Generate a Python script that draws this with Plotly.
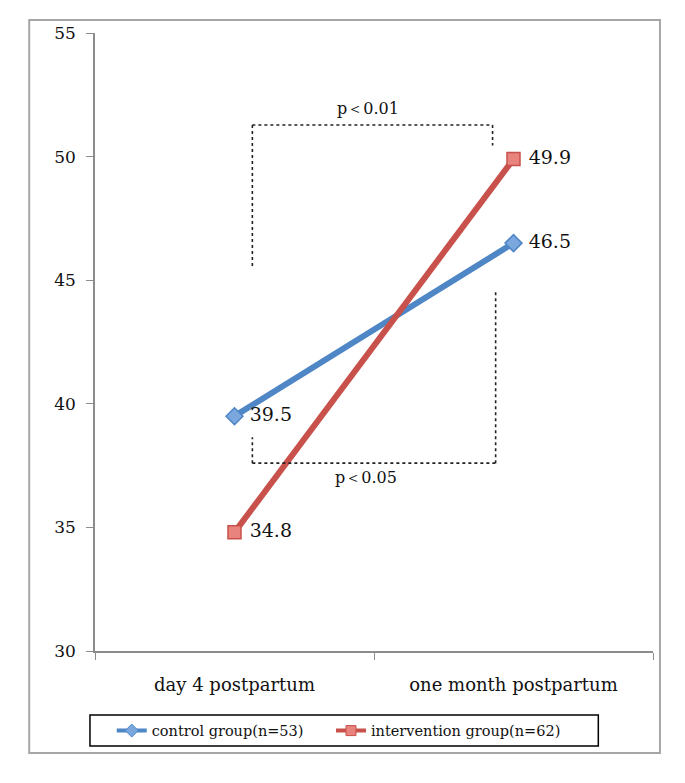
import plotly.graph_objects as go

categories = ["day 4 postpartum", "one month postpartum"]
control_values = [39.5, 46.5]
intervention_values = [34.8, 49.9]
control_name = "control group(n=53)"
intervention_name = "intervention group(n=62)"
y_ticks = [30, 35, 40, 45, 50, 55]
p_top = "p＜0.01"
p_bottom = "p＜0.05"

SERIF = "DejaVu Serif"
BLUE, BLUE_FILL = "#4F86C6", "#7AA7DD"
RED, RED_FILL = "#C8514B", "#E8837E"

fig = go.Figure()
fig.add_trace(go.Scatter(
    x=categories, y=control_values, name=control_name, showlegend=False,
    mode="lines+markers+text",
    text=[f" {v:.1f}" for v in control_values],
    textposition="middle right",
    textfont=dict(family=SERIF, size=19, color="#111"),
    line=dict(color=BLUE, width=6),
    marker=dict(symbol="diamond", size=13, color=BLUE_FILL,
                line=dict(color=BLUE, width=1.5)),
))
fig.add_trace(go.Scatter(
    x=categories, y=intervention_values, name=intervention_name, showlegend=False,
    mode="lines+markers+text",
    text=[f" {v:.1f}" for v in intervention_values],
    textposition="middle right",
    textfont=dict(family=SERIF, size=19, color="#111"),
    line=dict(color=RED, width=6),
    marker=dict(symbol="square", size=13, color=RED_FILL,
                line=dict(color=RED, width=1.5)),
))
# legend-only entries (no data drawn)
fig.add_trace(go.Scatter(
    x=[None], y=[None], name=control_name, mode="lines+markers", legend="legend",
    line=dict(color=BLUE, width=4),
    marker=dict(symbol="diamond", size=10, color=BLUE_FILL, line=dict(color=BLUE, width=1)),
))
fig.add_trace(go.Scatter(
    x=[None], y=[None], name=intervention_name, mode="lines+markers", legend="legend2",
    line=dict(color=RED, width=4),
    marker=dict(symbol="square", size=10, color=RED_FILL, line=dict(color=RED, width=1)),
))

dot = dict(color="#222", width=1.6, dash="dot")
shapes = [
    # top bracket
    dict(type="line", xref="x", yref="y", x0=0.064, x1=0.925, y0=51.28, y1=51.28, line=dot),
    dict(type="line", xref="x", yref="y", x0=0.064, x1=0.064, y0=51.28, y1=45.55, line=dot),
    dict(type="line", xref="x", yref="y", x0=0.925, x1=0.925, y0=51.28, y1=50.45, line=dot),
    # bottom bracket
    dict(type="line", xref="x", yref="y", x0=0.064, x1=0.936, y0=37.6, y1=37.6, line=dot),
    dict(type="line", xref="x", yref="y", x0=0.064, x1=0.064, y0=37.6, y1=38.65, line=dot),
    dict(type="line", xref="x", yref="y", x0=0.936, x1=0.936, y0=37.6, y1=44.55, line=dot),
    # outer frame
    dict(type="rect", xref="paper", yref="paper", x0=-0.1179, x1=1.0125, y0=-0.165, y1=1.021,
         line=dict(color="#A6A6A6", width=2), layer="below"),
    # legend box
    dict(type="rect", xref="paper", yref="paper", x0=-0.009, x1=0.902, y0=-0.1537, y1=-0.1036,
         line=dict(color="#000", width=1.5)),
]

annotations = [
    dict(x=0.48, y=51.95, xref="x", yref="y", text=p_top, showarrow=False,
         font=dict(family=SERIF, size=16, color="#111")),
    dict(x=0.47, y=37.0, xref="x", yref="y", text=p_bottom, showarrow=False,
         font=dict(family=SERIF, size=16, color="#111")),
]

legend_common = dict(orientation="h", xanchor="left", y=-0.103, yanchor="top",
                     font=dict(family=SERIF, size=14.5, color="#111"),
                     bgcolor="rgba(0,0,0,0)", itemwidth=30)

fig.update_layout(
    width=669, height=767,
    margin=dict(l=87, r=24, t=25, b=124),
    paper_bgcolor="white", plot_bgcolor="white",
    shapes=shapes, annotations=annotations,
    showlegend=True,
    legend=dict(x=0.03, **legend_common),
    legend2=dict(x=0.4229, **legend_common),
    xaxis=dict(type="category", categoryorder="array", categoryarray=categories,
               range=[-0.5, 1.5], showline=True, linecolor="#8C8C8C", linewidth=1.5,
               ticks="outside", tickson="boundaries", ticklen=7, tickcolor="#8C8C8C",
               showgrid=False, zeroline=False, ticklabelstandoff=17,
               tickfont=dict(family=SERIF, size=18, color="#111")),
    yaxis=dict(range=[30, 55], tickvals=y_ticks, showline=True, linecolor="#8C8C8C",
               linewidth=1.5, ticks="outside", ticklen=7, tickcolor="#8C8C8C",
               showgrid=False, zeroline=False, ticklabelstandoff=7,
               tickfont=dict(family=SERIF, size=17, color="#111")),
)

fig.write_html("out.html")
